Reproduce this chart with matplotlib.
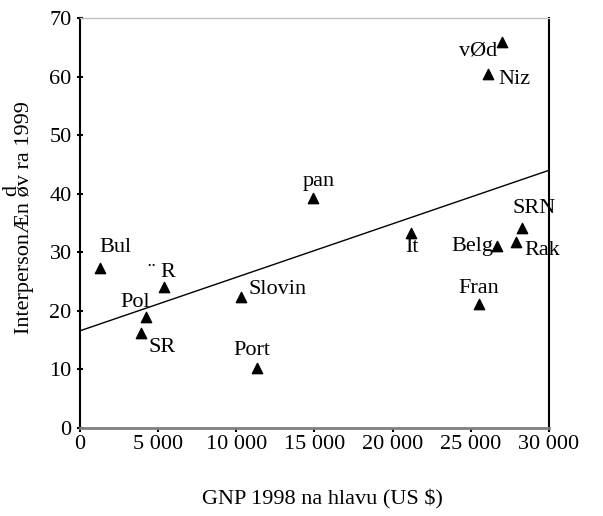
import numpy as np
import matplotlib.pyplot as plt

plt.rcParams['font.family'] = ['Liberation Serif', 'DejaVu Serif']

# data
zeme = ['Bul', '¨ R', 'Pol', 'SR', 'Slovin', 'Port', 'pan', 'It',
        'Belg', 'Rak', 'SRN', 'Fran', 'vØd', 'Niz']
gnp = [1300, 5400, 4200, 3900, 10300, 11300, 14900, 21200,
       26700, 27900, 28300, 25500, 27000, 26100]
duvera = [27.3, 24.1, 19.0, 16.2, 22.4, 10.2, 39.3, 33.3,
          31.0, 31.8, 34.1, 21.2, 65.9, 60.4]
trend_x = [0, 30000]
trend_y = [16.6, 44.0]

x_ticks = [0, 5000, 10000, 15000, 20000, 25000, 30000]
x_labels = ['0', '5 000', '10 000', '15 000', '20 000', '25 000', '30 000']
y_ticks = [0, 10, 20, 30, 40, 50, 60, 70]

# label offsets (pixels) and alignment per point
offs = [(15, 21, 'center'), (-16, 14, 'left'), (4, 14, 'right'), (8, -14, 'left'),
        (7, 7, 'left'), (-5, 18, 'center'), (6, 16, 'center'), (1, -15, 'center'),
        (-4, 0, 'right'), (8, -9, 'left'), (12, 20, 'center'), (0, 15, 'center'),
        (-5, -9, 'right'), (10, -5, 'left')]

fs = 16

fig = plt.figure(figsize=(6.03, 5.16), dpi=100)
ax = fig.add_axes([0.1327, 0.1705, 0.7777, 0.7946])

ax.plot(trend_x, trend_y, color='black', lw=1)
ax.scatter(gnp, duvera, marker='^', s=55, color='black', zorder=3)

for name, xv, yv, (dx, dy, ha) in zip(zeme, gnp, duvera, offs):
    ax.annotate(name, (xv, yv), xytext=(dx, dy), textcoords='offset pixels',
                ha=ha, va='center', fontsize=fs)

ax.set_xlim(0, 30000)
ax.set_ylim(0, 70)
ax.set_xticks(x_ticks)
ax.set_xticklabels(x_labels, fontsize=fs)
ax.set_yticks(y_ticks)
ax.set_yticklabels([str(v) for v in y_ticks], fontsize=fs)
ax.tick_params(axis='x', direction='out', length=3, width=1.5, pad=2)
ax.tick_params(axis='y', direction='inout', length=4, width=1.5, pad=4)

ax.spines['left'].set_linewidth(1.5)
ax.spines['right'].set_linewidth(1.5)
ax.spines['bottom'].set_color('#808080')
ax.spines['bottom'].set_linewidth(2)
ax.spines['top'].set_color('#c0c0c0')
ax.spines['top'].set_linewidth(1)

ax.set_xlabel('GNP 1998 na hlavu (US $)', fontsize=fs)
ax.xaxis.set_label_coords(0.516, -0.15)

# y popisek s posunutym "d" jako v originale
fig.text(25 / 603, 1 - 218 / 516, 'InterpersonÆn øv ra 1999', rotation=90,
         ha='center', va='center', fontsize=fs)
fig.text(12 / 603, 1 - 191 / 516, 'd', rotation=90,
         ha='center', va='center', fontsize=fs)

plt.savefig('out.png', dpi=100)
